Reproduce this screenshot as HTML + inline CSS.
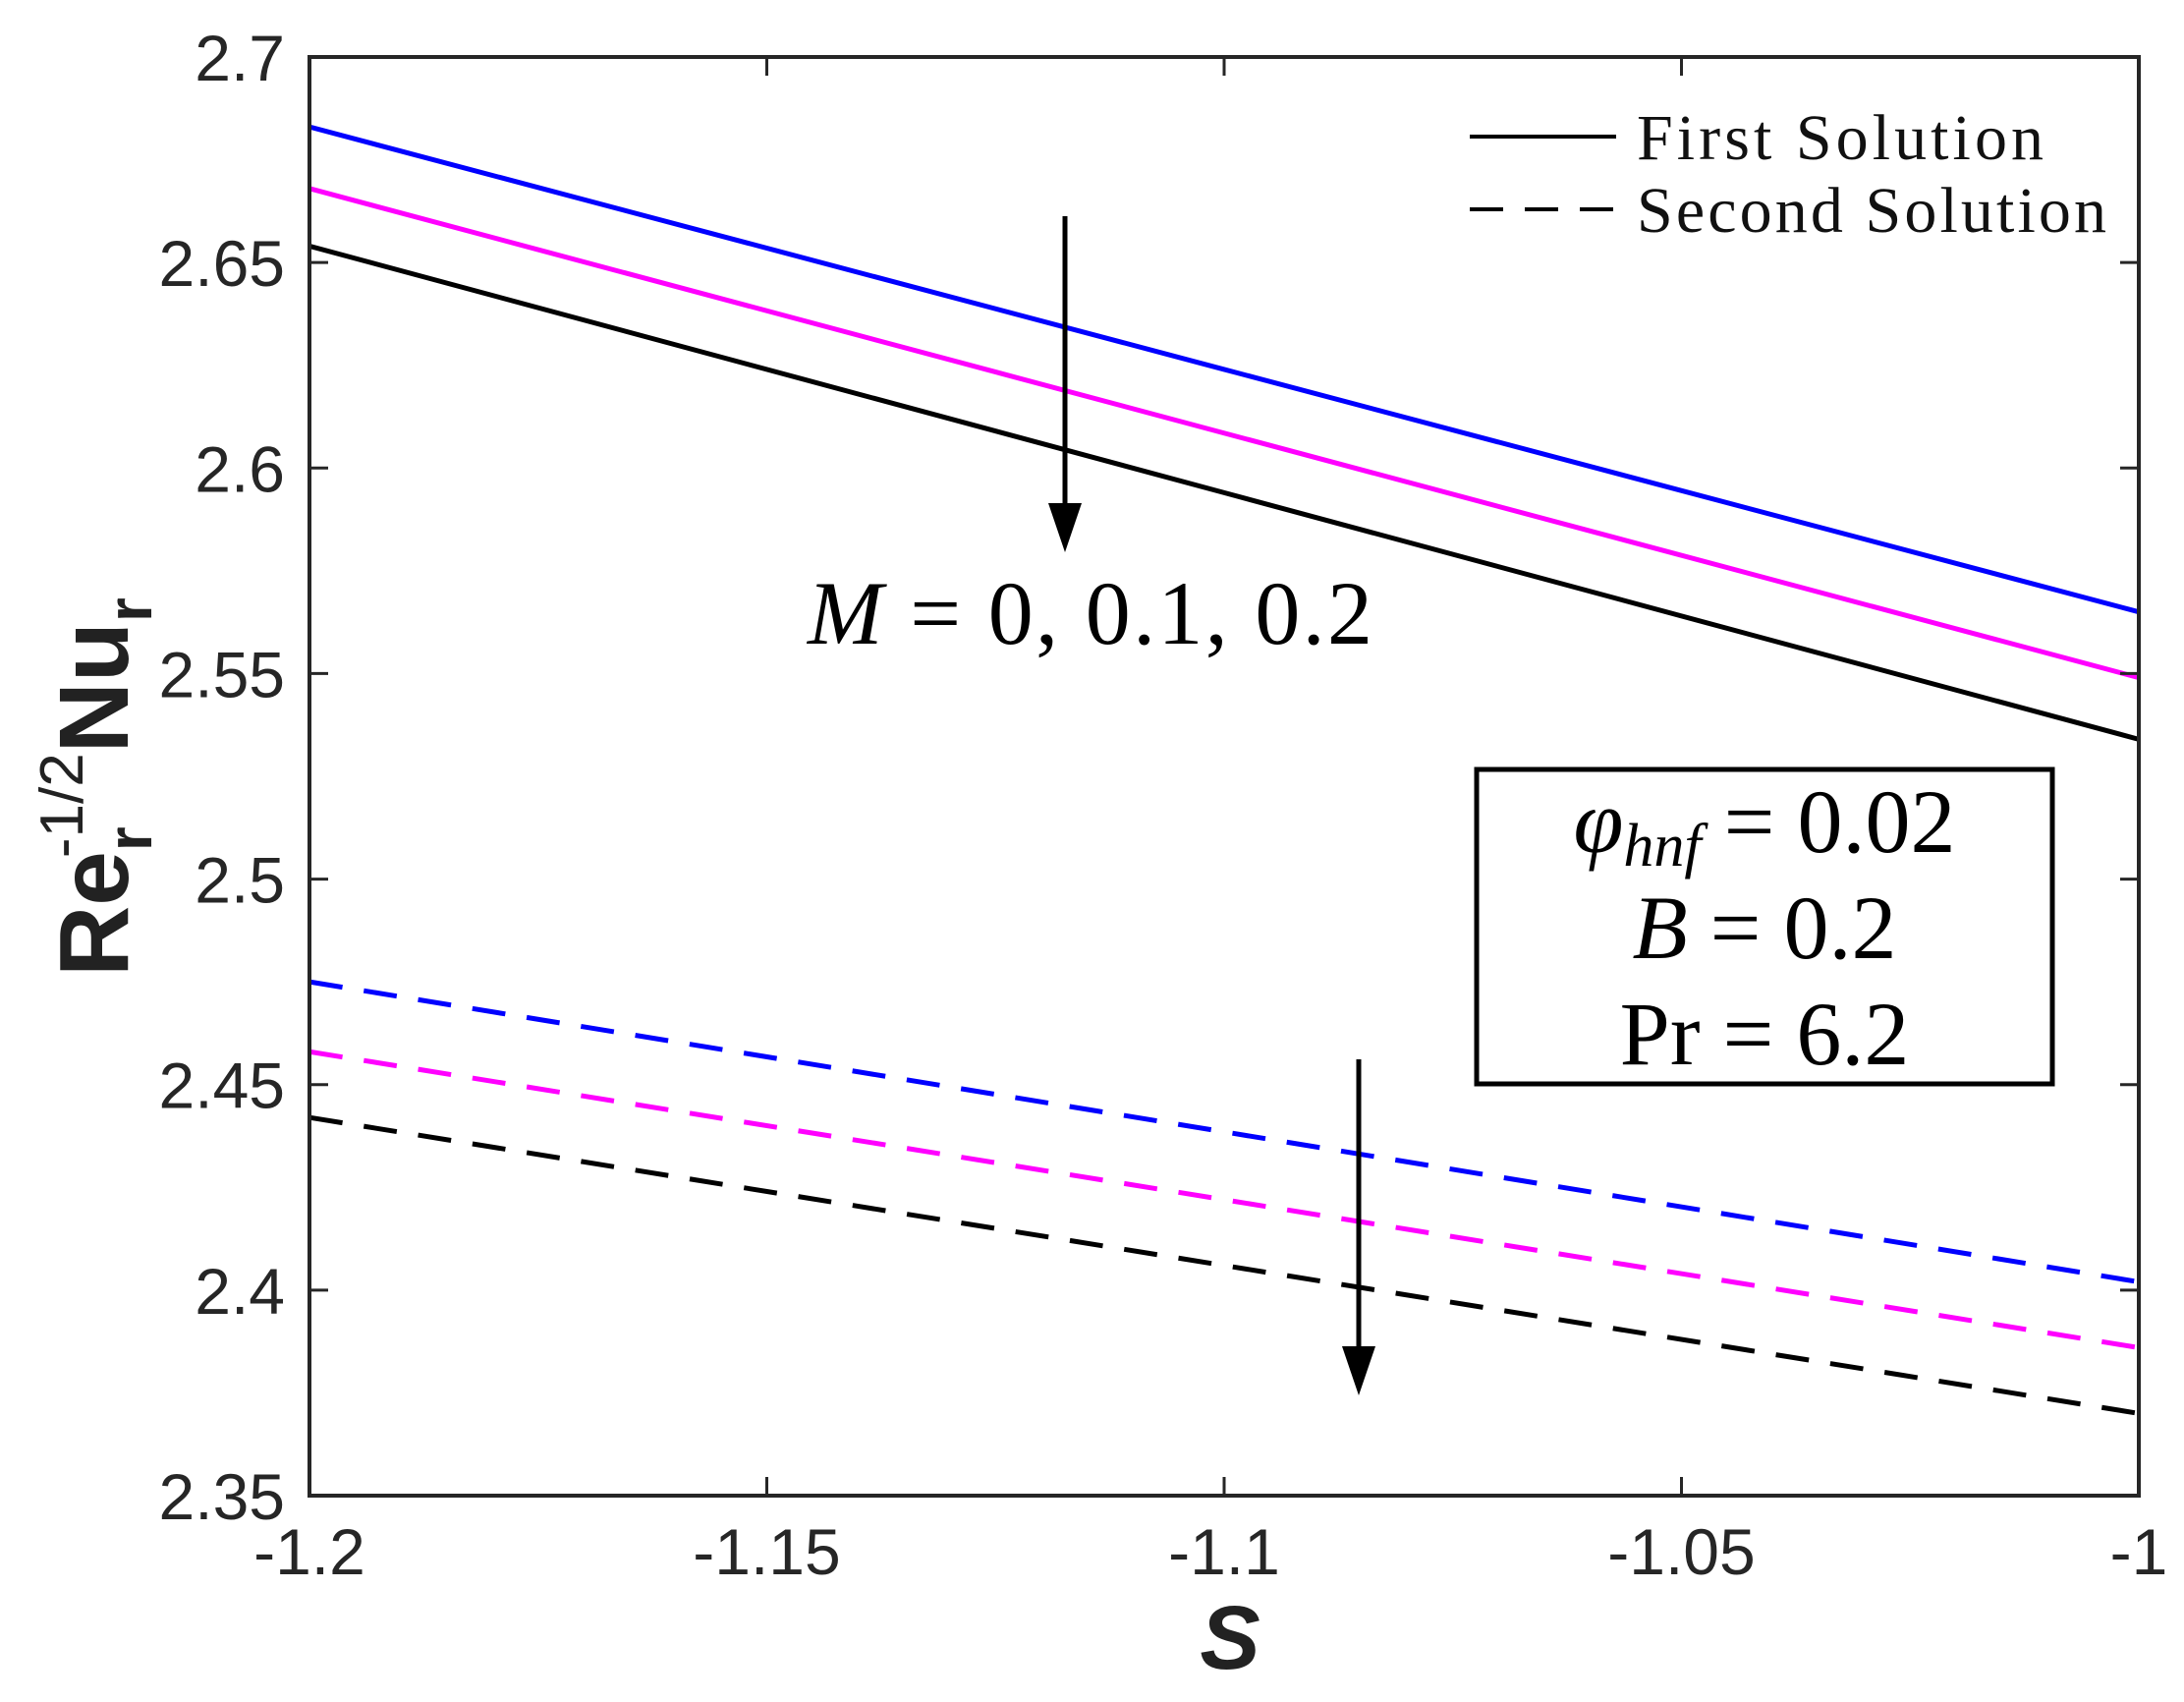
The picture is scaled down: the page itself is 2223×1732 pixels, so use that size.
<!DOCTYPE html>
<html><head><meta charset="utf-8"><style>
html,body{margin:0;padding:0;background:#fff;}
svg{display:block;}
</style></head><body>
<svg id="chart" width="2223" height="1732" viewBox="0 0 2223 1732" xmlns="http://www.w3.org/2000/svg">
<rect x="0" y="0" width="2223" height="1732" fill="#fff"/>
<g id="marks"></g>
<g id="axes"></g>
<rect x="315" y="58" width="1862" height="1464" fill="none" stroke="#262626" stroke-width="4"/>
<g>
<line x1="1496" y1="139" x2="1645" y2="139" stroke="#000" stroke-width="4"/>
<text x="1666" y="162" font-family="Liberation Serif, serif" font-size="66" textLength="414" fill="#111">First Solution</text>
<line x1="1496" y1="213" x2="1645" y2="213" stroke="#000" stroke-width="4" stroke-dasharray="34,22"/>
<text x="1666" y="236" font-family="Liberation Serif, serif" font-size="66" textLength="478" fill="#111">Second Solution</text>
</g>
<g>
<line x1="1084" y1="220" x2="1084" y2="530" stroke="#000" stroke-width="5"/>
<polygon points="1067,512 1101,512 1084,562" fill="#000"/>
</g>
<g>
<line x1="1383" y1="1078" x2="1383" y2="1390" stroke="#000" stroke-width="5"/>
<polygon points="1366,1370 1400,1370 1383,1420" fill="#000"/>
</g>
<text x="822" y="655" font-family="Liberation Serif, serif" font-size="92" textLength="575" fill="#000"><tspan font-style="italic">M</tspan> = 0, 0.1, 0.2</text>
<g>
<rect x="1503" y="783" width="586" height="320" fill="#fff" stroke="#000" stroke-width="5"/>
<text x="1796" y="867" text-anchor="middle" font-family="Liberation Serif, serif" font-size="92" fill="#000"><tspan font-style="italic">φ</tspan><tspan font-style="italic" font-size="62" dy="14">hnf</tspan><tspan dy="-14"> = 0.02</tspan></text>
<text x="1796" y="975" text-anchor="middle" font-family="Liberation Serif, serif" font-size="92" fill="#000"><tspan font-style="italic">B</tspan> = 0.2</text>
<text x="1796" y="1083" text-anchor="middle" font-family="Liberation Serif, serif" font-size="92" fill="#000">Pr = 6.2</text>
</g>
<text x="1252" y="1698" text-anchor="middle" font-family="Liberation Sans, sans-serif" font-size="92" font-weight="bold" font-style="italic" fill="#222">S</text>
<text transform="translate(130,801) rotate(-90)" text-anchor="middle" font-family="Liberation Sans, sans-serif" font-size="100" font-weight="bold" fill="#222">Re<tspan font-size="64" dy="24">r</tspan><tspan font-size="62" dx="-32" dy="-70" font-weight="normal">-1/2</tspan><tspan dy="46">Nu</tspan><tspan font-size="64" dy="24">r</tspan></text>
<script>
var xTicks=[-1.2,-1.15,-1.1,-1.05,-1];
var xTickLabels=["-1.2","-1.15","-1.1","-1.05","-1"];
var yTicks=[2.35,2.4,2.45,2.5,2.55,2.6,2.65,2.7];
var yTickLabels=["2.35","2.4","2.45","2.5","2.55","2.6","2.65","2.7"];
var sValues=[-1.2,-1.1,-1];
var firstM0=[2.683,2.624,2.565];
var firstM01=[2.668,2.6085,2.549];
var firstM02=[2.654,2.594,2.534];
var secondM0=[2.475,2.4385,2.402];
var secondM01=[2.458,2.422,2.386];
var secondM02=[2.442,2.406,2.370];
var L=315,R=2177,T=58,B=1522;
function xs(v){return L+(v-(-1.2))/(0.2)*(R-L);}
function ys(v){return B-(v-2.35)/(0.35)*(B-T);}
var NS="http://www.w3.org/2000/svg";
var marks=document.getElementById('marks');
var axes=document.getElementById('axes');
var series=[
 {d:firstM0,c:"#0000ff",dash:null,n:"first-solution-m0"},
 {d:firstM01,c:"#ff00ff",dash:null,n:"first-solution-m01"},
 {d:firstM02,c:"#000000",dash:null,n:"first-solution-m02"},
 {d:secondM0,c:"#0000ff",dash:"34,22",n:"second-solution-m0"},
 {d:secondM01,c:"#ff00ff",dash:"34,22",n:"second-solution-m01"},
 {d:secondM02,c:"#000000",dash:"34,22",n:"second-solution-m02"}
];
series.forEach(function(s){
 var p=document.createElementNS(NS,'polyline');
 
 
 p.setAttribute('points',sValues.map(function(x,i){return xs(x)+','+ys(s.d[i]);}).join(' '));
 p.setAttribute('fill','none');p.setAttribute('stroke',s.c);p.setAttribute('stroke-width','5');
 if(s.dash)p.setAttribute('stroke-dasharray',s.dash);
 marks.appendChild(p);
});
xTicks.forEach(function(v,i){
 var x=xs(v);
 var t1=document.createElementNS(NS,'path');
 
 
 t1.setAttribute('d','M'+x+' '+B+'V'+(B-19)+'M'+x+' '+T+'V'+(T+19));
 t1.setAttribute('stroke','#262626');t1.setAttribute('stroke-width','3');
 axes.appendChild(t1);
 var tx=document.createElementNS(NS,'text');
 
 
 tx.setAttribute('x',x);tx.setAttribute('y',1602);tx.setAttribute('text-anchor','middle');
 tx.setAttribute('font-family','Liberation Sans, sans-serif');tx.setAttribute('font-size','66');tx.setAttribute('fill','#262626');
 tx.textContent=xTickLabels[i];
 axes.appendChild(tx);
});
yTicks.forEach(function(v,i){
 var y=ys(v);
 var t1=document.createElementNS(NS,'path');
 
 
 t1.setAttribute('d','M'+L+' '+y+'H'+(L+19)+'M'+R+' '+y+'H'+(R-19));
 t1.setAttribute('stroke','#262626');t1.setAttribute('stroke-width','3');
 axes.appendChild(t1);
 var tx=document.createElementNS(NS,'text');
 
 
 tx.setAttribute('x',290);tx.setAttribute('y',y+24);tx.setAttribute('text-anchor','end');
 tx.setAttribute('font-family','Liberation Sans, sans-serif');tx.setAttribute('font-size','66');tx.setAttribute('fill','#262626');
 tx.textContent=yTickLabels[i];
 axes.appendChild(tx);
});
</script>
</svg>
</body></html>
